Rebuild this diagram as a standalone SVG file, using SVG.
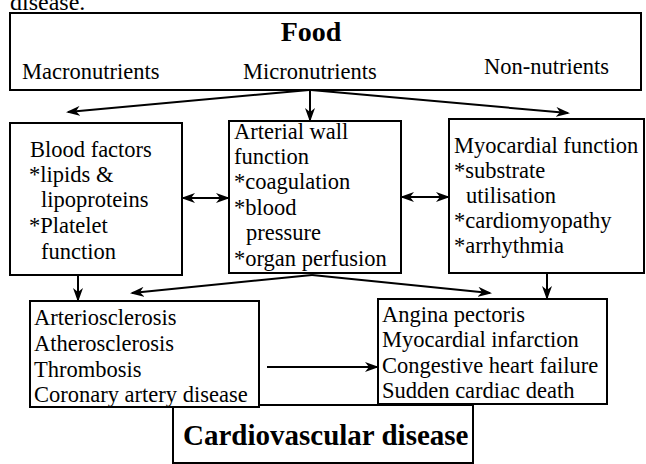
<svg xmlns="http://www.w3.org/2000/svg" width="646" height="464" viewBox="0 0 646 464">
<defs>
<style>
.box{fill:#fff;stroke:#000;stroke-width:2}
.t{font-family:"Liberation Serif","DejaVu Serif",serif;font-size:22.5px;fill:#000}
.b{font-family:"Liberation Serif","DejaVu Serif",serif;font-weight:bold;fill:#000}
.c{fill:none;stroke:#000;stroke-width:2}
</style>
<marker id="ah" viewBox="0 0 14 10" refX="12" refY="5" markerWidth="14" markerHeight="10" markerUnits="userSpaceOnUse" orient="auto-start-reverse">
<path d="M0,0 L14,5 L0,10 L4,5 Z" fill="#000"/>
</marker>
</defs>
<rect width="646" height="464" fill="#fff"/>
<text class="t" x="10" y="10" style="font-size:24px">disease.</text>

<g id="food">
<rect class="box" x="10" y="13" width="631" height="77"/>
<text class="b" x="311" y="41" text-anchor="middle" style="font-size:28px">Food</text>
<text class="t" x="22" y="79">Macronutrients</text>
<text class="t" x="243" y="79">Micronutrients</text>
<text class="t" x="484" y="74">Non-nutrients</text>
</g>

<g id="blood">
<rect class="box" x="10" y="123" width="172" height="152"/>
<text class="t" x="30" y="157">Blood factors</text>
<text class="t" x="29" y="182">*lipids &amp;</text>
<text class="t" x="41" y="207">lipoproteins</text>
<text class="t" x="29" y="233">*Platelet</text>
<text class="t" x="41" y="259">function</text>
</g>

<g id="arterial">
<rect class="box" x="229" y="121" width="172" height="152"/>
<text class="t" x="234" y="139">Arterial wall</text>
<text class="t" x="234" y="164">function</text>
<text class="t" x="234" y="189">*coagulation</text>
<text class="t" x="234" y="215">*blood</text>
<text class="t" x="246" y="240">pressure</text>
<text class="t" x="234" y="266">*organ perfusion</text>
</g>

<g id="myocardial">
<rect class="box" x="449" y="119" width="195" height="154"/>
<text class="t" x="454" y="153">Myocardial function</text>
<text class="t" x="454" y="178">*substrate</text>
<text class="t" x="466" y="203">utilisation</text>
<text class="t" x="454" y="228">*cardiomyopathy</text>
<text class="t" x="454" y="253">*arrhythmia</text>
</g>

<g id="cvd">
<rect class="box" x="173" y="405" width="300" height="58"/>
<text class="b" x="183" y="445" style="font-size:29px">Cardiovascular disease</text>
</g>

<g id="vascular">
<rect class="box" x="30" y="301" width="229" height="106"/>
<text class="t" x="34" y="325">Arteriosclerosis</text>
<text class="t" x="34" y="351">Atherosclerosis</text>
<text class="t" x="34" y="377">Thrombosis</text>
<text class="t" x="34" y="402">Coronary artery disease</text>
</g>

<g id="cardiac">
<rect class="box" x="378" y="299" width="229" height="105"/>
<text class="t" x="382" y="322">Angina pectoris</text>
<text class="t" x="382" y="347">Myocardial infarction</text>
<text class="t" x="382" y="373">Congestive heart failure</text>
<text class="t" x="382" y="398">Sudden cardiac death</text>
</g>

<g id="connectors">
<line class="c" x1="309" y1="90" x2="68" y2="112" marker-end="url(#ah)"/>
<line class="c" x1="310" y1="90" x2="310" y2="120" marker-end="url(#ah)"/>
<line class="c" x1="311" y1="90" x2="568" y2="113" marker-end="url(#ah)"/>
<line class="c" x1="183" y1="198" x2="228" y2="198" marker-start="url(#ah)" marker-end="url(#ah)"/>
<line class="c" x1="402" y1="197" x2="448" y2="197" marker-start="url(#ah)" marker-end="url(#ah)"/>
<line class="c" x1="78" y1="275" x2="78" y2="300" marker-end="url(#ah)"/>
<line class="c" x1="312" y1="275" x2="132" y2="293" marker-end="url(#ah)"/>
<line class="c" x1="312" y1="275" x2="490" y2="293" marker-end="url(#ah)"/>
<line class="c" x1="547" y1="273" x2="547" y2="298" marker-end="url(#ah)"/>
<line class="c" x1="267" y1="367" x2="377" y2="367" marker-end="url(#ah)"/>
</g>
</svg>
